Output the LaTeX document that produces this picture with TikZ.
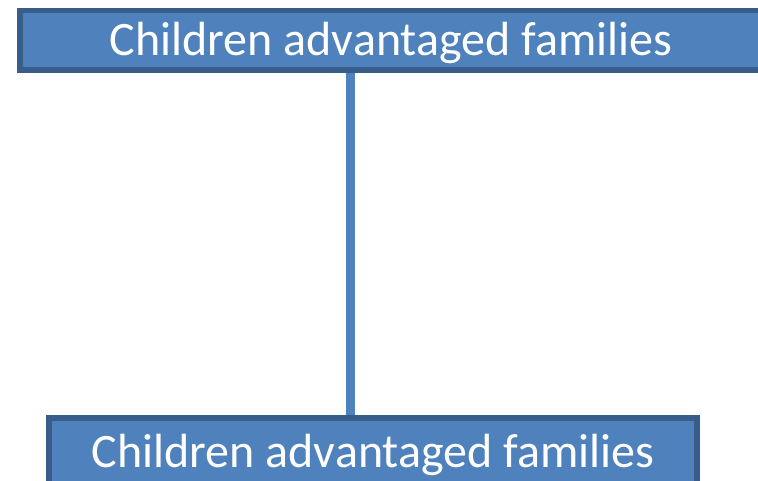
\documentclass[tikz,border=0pt]{standalone}
\usepackage{fontspec}
\setmainfont{Carlito}
\usetikzlibrary{backgrounds}
\definecolor{boxfill}{HTML}{4F81BD}
\definecolor{boxline}{HTML}{385D8A}
\begin{document}
\begin{tikzpicture}[
       x=1pt,y=-1pt,
       famille/.style={
         rectangle,
         draw=boxline,
         fill=boxfill,
         line width=5.5pt,
         text=white,
         font=\fontsize{48}{52}\selectfont,
         text height=41pt,
         text depth=10pt,
         inner sep=0pt
       }
     ]
       \useasboundingbox (0,0) rectangle (758,480);

       \node (haut) at (391,40) [famille,minimum width=742pt,minimum height=59.5pt]{Children advantaged families};
       \node (bas) at (373,452) [famille,minimum width=648pt,minimum height=68pt]{Children advantaged families};

       \coordinate (tige) at (350.5,0);

       \begin{scope}[on background layer]
         \draw[boxfill,line width=9pt] (haut.south -| tige) -- ([yshift=-3pt]bas.north -| tige);
       \end{scope}

\end{tikzpicture}
\end{document}
